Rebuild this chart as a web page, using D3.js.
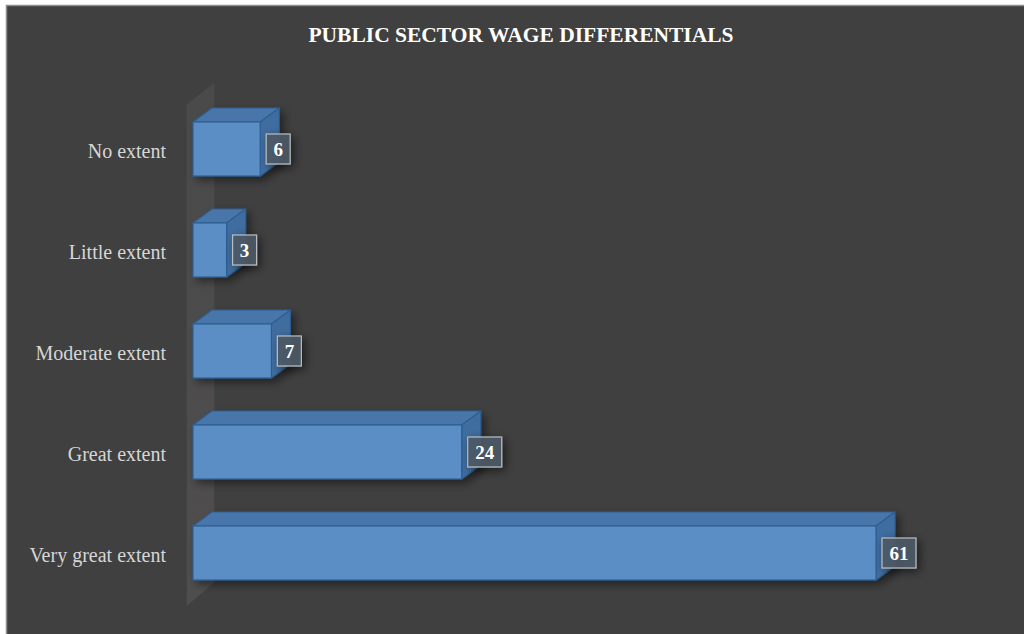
<!DOCTYPE html>
<html><head><meta charset="utf-8">
<script src="https://cdn.jsdelivr.net/npm/d3@7/dist/d3.min.js"></script>
<style>html,body{margin:0;padding:0;background:#fff;}svg{display:block;}</style>
</head><body>
<script>
const categories = ["No extent", "Little extent", "Moderate extent", "Great extent", "Very great extent"];
const values = [6, 3, 7, 24, 61];
const title = "PUBLIC SECTOR WAGE DIFFERENTIALS";

const W = 1024, H = 634;
const svg = d3.select("body").append("svg").attr("width", W).attr("height", H);
const defs = svg.append("defs");

const lbShadow = defs.append("filter").attr("id","lblShadow").attr("x","-80%").attr("y","-80%").attr("width","260%").attr("height","260%");
lbShadow.append("feGaussianBlur").attr("in","SourceAlpha").attr("stdDeviation",5).attr("result","b");
lbShadow.append("feOffset").attr("in","b").attr("dx",3).attr("dy",3).attr("result","o");
lbShadow.append("feComponentTransfer").attr("in","o").attr("result","o2").append("feFuncA").attr("type","linear").attr("slope",0.6);
const m1 = lbShadow.append("feMerge"); m1.append("feMergeNode").attr("in","o2"); m1.append("feMergeNode").attr("in","SourceGraphic");

const barShadow = defs.append("filter").attr("id","barShadow").attr("x","-20%").attr("y","-50%").attr("width","150%").attr("height","200%");
barShadow.append("feGaussianBlur").attr("in","SourceAlpha").attr("stdDeviation",4).attr("result","b");
barShadow.append("feOffset").attr("in","b").attr("dx",4).attr("dy",4).attr("result","o");
barShadow.append("feComponentTransfer").attr("in","o").attr("result","o2").append("feFuncA").attr("type","linear").attr("slope",0.45);
const m2 = barShadow.append("feMerge"); m2.append("feMergeNode").attr("in","o2"); m2.append("feMergeNode").attr("in","SourceGraphic");

const wallGrad = defs.append("linearGradient").attr("id","wallGrad").attr("x1",0).attr("x2",0).attr("y1",0).attr("y2",1);
wallGrad.append("stop").attr("offset","0%").attr("stop-color","#4a4a4a");
wallGrad.append("stop").attr("offset","100%").attr("stop-color","#504d4d");

// frame
svg.append("rect").attr("x",6.5).attr("y",5.5).attr("width",W).attr("height",H).attr("fill","#404040").attr("stroke","#8c8c8c").attr("stroke-width",1.5);

const x = d3.scaleLinear().domain([0, d3.max(values)]).range([193, 876]);
const y = d3.scaleBand().domain(categories).range([98.5, 603.5]).paddingInner(0.465).paddingOuter(0.2325);
const dx = 19, dy = 14;

// wall
const wx = 187, wDepth = 27, wdy = 21;
svg.append("path")
  .attr("d", `M${wx},${y.range()[0]+6} L${wx+wDepth},${y.range()[0]+6-wdy} L${wx+wDepth},${y.range()[1]-21} L${wx},${y.range()[1]+2} Z`)
  .attr("fill","url(#wallGrad)").attr("stroke","#4d4d4d").attr("stroke-width",0.5);

svg.append("text").attr("x", 521).attr("y", 42).attr("text-anchor","middle")
  .attr("font-family","Liberation Serif, Times New Roman, serif").attr("font-weight","bold").attr("font-size",21.5)
  .attr("fill","#ffffff").text(title);

const g = svg.append("g");
const bars = g.selectAll("g.bar").data(categories.map((c,i)=>({c, v: values[i]}))).join("g").attr("class","bar").attr("filter","url(#barShadow)");
bars.each(function(d){
  const s = d3.select(this);
  const x0 = x(0), x1 = x(d.v), y0 = y(d.c), h = y.bandwidth();
  s.append("path").attr("d",`M${x0},${y0} L${x0+dx},${y0-dy} L${x1+dx},${y0-dy} L${x1},${y0} Z`)
    .attr("fill","#4876aa").attr("stroke","#2f5f92").attr("stroke-width",1.2).attr("stroke-linejoin","round");
  s.append("path").attr("d",`M${x1},${y0} L${x1+dx},${y0-dy} L${x1+dx},${y0+h-dy} L${x1},${y0+h} Z`)
    .attr("fill","#3f6d9f").attr("stroke","#2f5f92").attr("stroke-width",1.2).attr("stroke-linejoin","round");
  s.append("rect").attr("x",x0).attr("y",y0).attr("width",x1-x0).attr("height",h)
    .attr("fill","#5b8ec6").attr("stroke","#2f5f92").attr("stroke-width",1.2);
});

svg.selectAll("text.cat").data(categories).join("text").attr("class","cat")
  .attr("x",166).attr("y",d=>y(d)+y.bandwidth()/2+2).attr("dy","0.35em").attr("text-anchor","end")
  .attr("font-family","Liberation Serif, Times New Roman, serif").attr("font-size",20)
  .attr("fill","#d6d6d6").text(d=>d);

const vl = svg.selectAll("g.vl").data(categories.map((c,i)=>({c, v: values[i]}))).join("g").attr("class","vl");
vl.each(function(d){
  const s = d3.select(this);
  const str = String(d.v);
  const w = str.length === 1 ? 24 : 34;
  const bx = x(d.v) + 6, cy = y(d.c) + y.bandwidth()/2;
  s.append("rect").attr("x",bx).attr("y",cy-15).attr("width",w).attr("height",30)
    .attr("fill","#4c5966").attr("fill-opacity",0.9).attr("stroke","#b8bcc0").attr("stroke-width",1.2).attr("filter","url(#lblShadow)");
  s.append("text").attr("x",bx+w/2).attr("y",cy).attr("dy","0.35em").attr("text-anchor","middle")
    .attr("font-family","Liberation Serif, Times New Roman, serif").attr("font-weight","bold").attr("font-size",19)
    .attr("fill","#ffffff").text(str);
});
</script>
</body></html>
